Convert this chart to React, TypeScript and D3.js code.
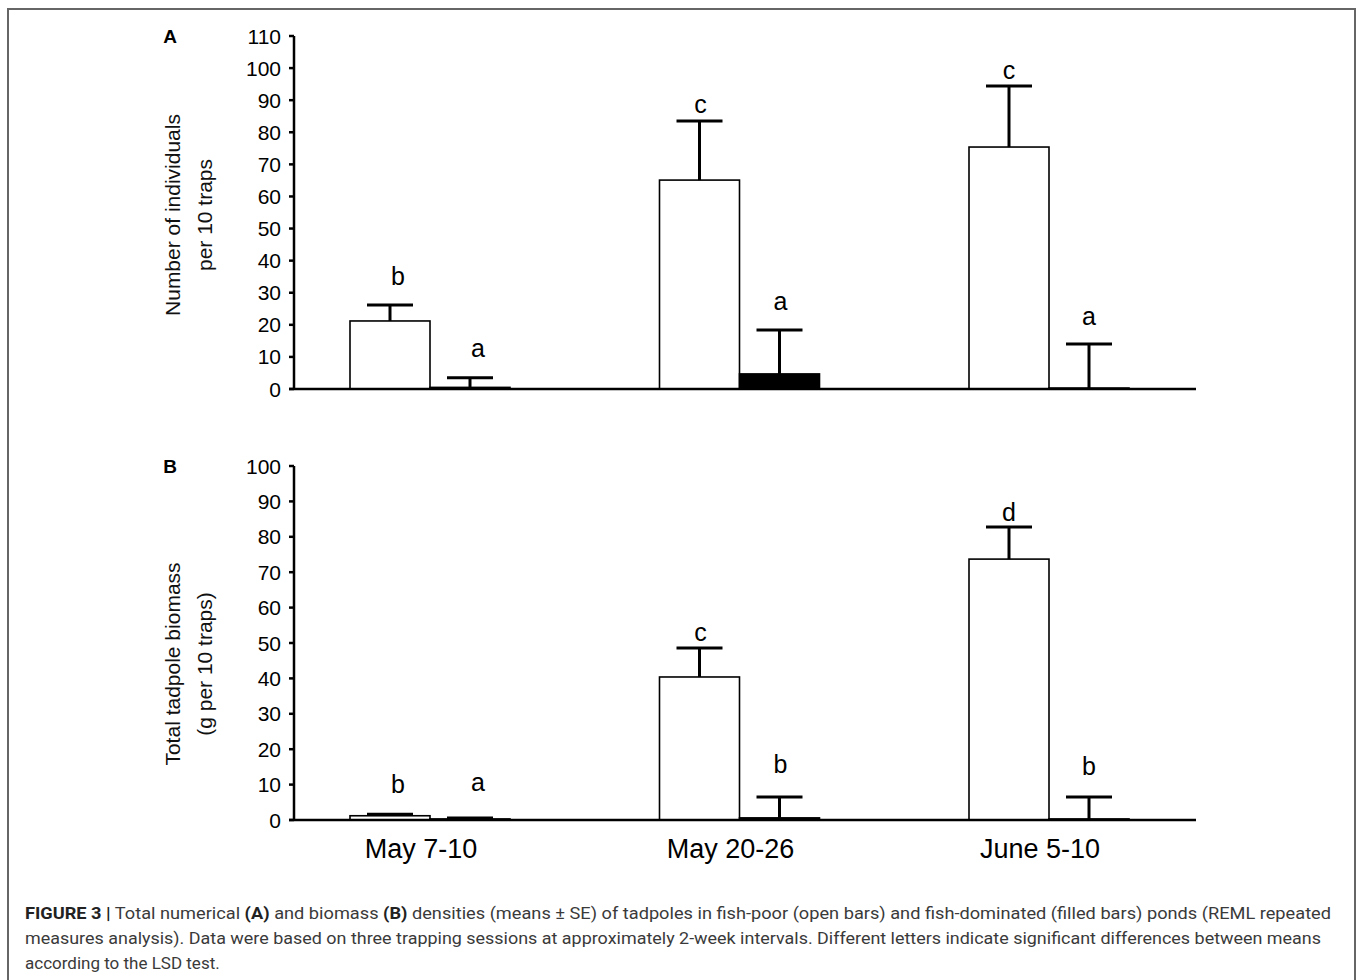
import React from 'react';
import * as d3 from 'd3';

// sampling sessions (x categories)
const sessions = ['May 7-10', 'May 20-26', 'June 5-10'];

// panel A: number of individuals per 10 traps
const openMeanA = [21.2, 65.1, 75.4];
const openSeA = [5.0, 18.4, 19.0];
const filledMeanA = [0.5, 4.7, 0.3];
const filledSeA = [3.0, 13.7, 13.7];
const openLettersA = ['b', 'c', 'c'];
const filledLettersA = ['a', 'a', 'a'];
const openLetterAtA = [32.4, 86, 96.6];
const filledLetterAtA = [10, 24.6, 19.9];
const ticksA = [0, 10, 20, 30, 40, 50, 60, 70, 80, 90, 100, 110];

// panel B: total tadpole biomass (g per 10 traps)
const openMeanB = [1.2, 40.4, 73.7];
const openSeB = [0.4, 8.2, 9.1];
const filledMeanB = [0.3, 0.6, 0.3];
const filledSeB = [0.3, 5.9, 6.2];
const openLettersB = ['b', 'c', 'd'];
const filledLettersB = ['a', 'b', 'b'];
const openLetterAtB = [7.6, 50.6, 84.5];
const filledLetterAtB = [8.2, 13.3, 12.7];
const ticksB = [0, 10, 20, 30, 40, 50, 60, 70, 80, 90, 100];

const FONT = '"Liberation Sans", Arial, sans-serif';
const axisLeft = 294;
const axisRight = 1196;
const barW = 80;
// letters of the first session sit a little right of their bars
const letterDx = [8, 1, 0];

const x = d3.scalePoint<string>().domain(sessions).range([430, 1049]);

function Panel(props: any) {
  const { label, top, bottom, max, ticks, openMean, openSe, filledMean, filledSe,
    openLetters, filledLetters, openLetterAt, filledLetterAt, titles, titleY, showX } = props;
  const y = d3.scaleLinear().domain([0, max]).range([bottom, top]);

  const errBar = (cx: number, v: number, se: number, key: string) => (
    <g key={key} stroke="#000" strokeWidth={3}>
      <line x1={cx} x2={cx} y1={y(v)} y2={y(v + se)} />
      <line x1={cx - 23} x2={cx + 23} y1={y(v + se)} y2={y(v + se)} />
    </g>
  );

  return (
    <g fontFamily={FONT}>
      <text x={170} y={top + 7} fontSize={19} fontWeight="bold" textAnchor="middle">{label}</text>
      {titles.map((t: string, i: number) => (
        <text key={t} transform={`translate(${180 + i * 32},${titleY}) rotate(-90)`}
          fontSize={21} textAnchor="middle" fill="#111">{t}</text>
      ))}
      {sessions.map((s, i) => {
        const cx = x(s)!;
        return (
          <g key={s}>
            <rect x={cx - barW} y={y(openMean[i])} width={barW} height={y(0) - y(openMean[i])}
              fill="#fff" stroke="#000" strokeWidth={1.6} />
            <rect x={cx} y={y(filledMean[i])} width={barW} height={y(0) - y(filledMean[i])}
              fill="#000" stroke="#000" strokeWidth={1.6} />
            {errBar(cx - barW / 2, openMean[i], openSe[i], 'o')}
            {errBar(cx + barW / 2, filledMean[i], filledSe[i], 'f')}
            <text x={cx - barW / 2 + letterDx[i]} y={y(openLetterAt[i])} fontSize={25} textAnchor="middle">{openLetters[i]}</text>
            <text x={cx + barW / 2 + letterDx[i]} y={y(filledLetterAt[i])} fontSize={25} textAnchor="middle">{filledLetters[i]}</text>
            {showX && (
              <text x={cx - 9} y={bottom + 38} fontSize={27} textAnchor="middle">{s}</text>
            )}
          </g>
        );
      })}
      <g stroke="#000" strokeWidth={2.5}>
        <line x1={axisLeft} x2={axisLeft} y1={y(max)} y2={y(0) + 1} />
        <line x1={axisLeft - 5} x2={axisRight} y1={y(0)} y2={y(0)} />
        {ticks.map((t: number) => (
          <line key={t} x1={axisLeft - 5} x2={axisLeft} y1={y(t)} y2={y(t)} />
        ))}
      </g>
      {ticks.map((t: number) => (
        <text key={t} x={281} y={y(t) + 7.5} fontSize={21} textAnchor="end">{t}</text>
      ))}
    </g>
  );
}

export default function App() {
  return (
    <div style={{ position: 'absolute', left: 0, top: 0 }}>
      <svg width={1358} height={980} style={{ display: 'block', background: '#fff' }}>
        <rect x={8} y={9} width={1347} height={1000} fill="#fff" stroke="#666" strokeWidth={2} />
        <Panel label="A" top={36} bottom={389} max={110} ticks={ticksA}
          openMean={openMeanA} openSe={openSeA} filledMean={filledMeanA} filledSe={filledSeA}
          openLetters={openLettersA} filledLetters={filledLettersA}
          openLetterAt={openLetterAtA} filledLetterAt={filledLetterAtA}
          titles={['Number of individuals', 'per 10 traps']} titleY={215} showX={false} />
        <Panel label="B" top={466} bottom={820} max={100} ticks={ticksB}
          openMean={openMeanB} openSe={openSeB} filledMean={filledMeanB} filledSe={filledSeB}
          openLetters={openLettersB} filledLetters={filledLettersB}
          openLetterAt={openLetterAtB} filledLetterAt={filledLetterAtB}
          titles={['Total tadpole biomass', '(g per 10 traps)']} titleY={664} showX={true} />
        <g fontFamily='Roboto, "Liberation Sans", sans-serif' fontSize={17} fill="#3a3a3a">
          <text x={25} y={919} textLength={1306} lengthAdjust="spacingAndGlyphs">
            <tspan fontWeight="bold" fill="#222">FIGURE 3 |</tspan> Total numerical <tspan fontWeight="bold" fill="#222">(A)</tspan> and biomass <tspan fontWeight="bold" fill="#222">(B)</tspan> densities (means ± SE) of tadpoles in fish-poor (open bars) and fish-dominated (filled bars) ponds (REML repeated
          </text>
          <text x={25} y={944} textLength={1296} lengthAdjust="spacingAndGlyphs">
            measures analysis). Data were based on three trapping sessions at approximately 2-week intervals. Different letters indicate significant differences between means
          </text>
          <text x={25} y={969}>according to the LSD test.</text>
        </g>
      </svg>
    </div>
  );
}
